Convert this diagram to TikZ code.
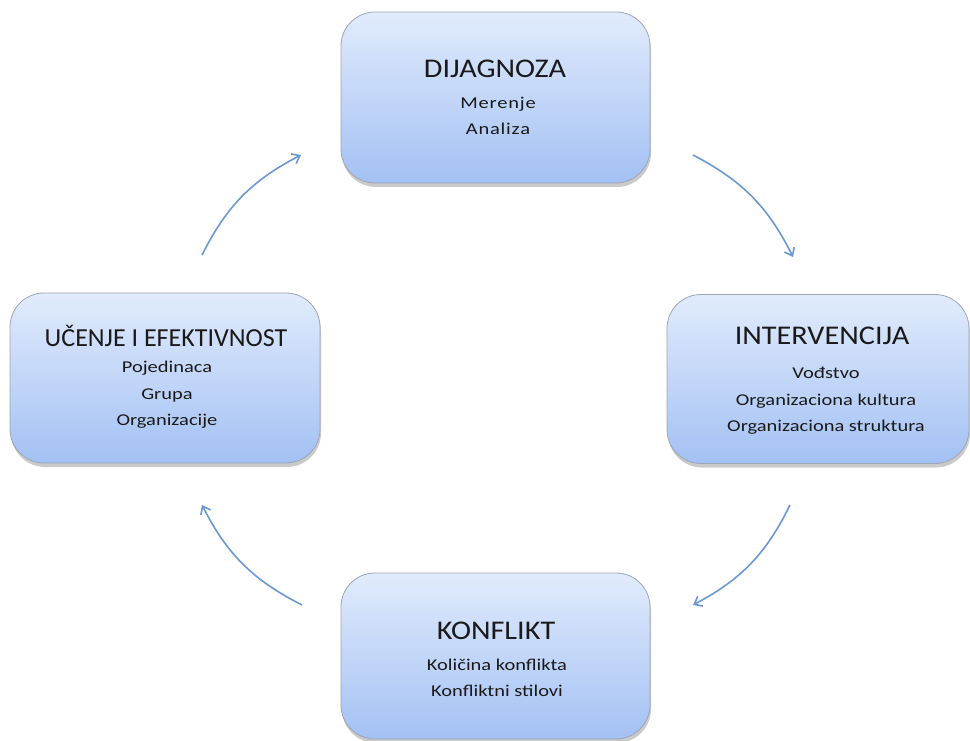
\documentclass[tikz,border=0pt]{standalone}
\usepackage{fontspec}
\setmainfont{Carlito}
\usetikzlibrary{shadows,arrows.meta}
\definecolor{boxtop}{HTML}{E1EBFC}
\definecolor{boxbot}{HTML}{A3C1F4}
\definecolor{boxline}{HTML}{9DA6B6}
\definecolor{arrowblue}{HTML}{6B98D2}
\definecolor{txt}{HTML}{1A1A1A}
\tikzset{
  stage/.style={draw=boxline, line width=0.8pt, rounded corners=34pt,
    top color=boxtop, bottom color=boxbot, inner sep=0pt,
    drop shadow={shadow xshift=1pt, shadow yshift=-4pt, opacity=0.35, fill=black!60}},
  title/.style={font=\fontsize{27}{30}\selectfont\addfontfeature{FakeStretch=1.12}, text=txt},
  narrowtitle/.style={font=\fontsize{26}{30}\selectfont, text=txt},
  items/.style={font=\fontsize{16.5}{26.5}\selectfont\addfontfeature{FakeStretch=1.24}, text=txt, align=center},
  flow/.style={draw=arrowblue, line width=1.6pt, -{Straight Barb[length=7pt,width=11pt,line width=1.6pt]}, bend left=18}
}
\begin{document}
\begin{tikzpicture}[x=1pt,y=-1pt]
\useasboundingbox (0,0) rectangle (970,741);

% four stages of the cycle
\node[stage, minimum width=309pt, minimum height=171pt] (diag) at (495.5,97.5) {};
\node[stage, minimum width=302pt, minimum height=169pt] (interv) at (818,379) {};
\node[stage, minimum width=310pt, minimum height=170pt] (ucenje) at (165,378) {};
\node[stage, minimum width=309pt, minimum height=166pt] (konf) at (495.5,656) {};

% titles and sub-items
\node[title] (diagT) at (495,69) {DIJAGNOZA};
\node[items] (diagI) at (498,116) {\addfontfeature{LetterSpace=5}Merenje\\\addfontfeature{LetterSpace=5}Analiza};

\node[title] (intervT) at (822,336) {INTERVENCIJA};
\node[items] (intervI) at (826,401) {Vođstvo\\Organizaciona kultura\\Organizaciona struktura};

\node[narrowtitle] (ucenjeT) at (166,336) {UČENJE I EFEKTIVNOST};
\node[items] (ucenjeI) at (167,395) {Pojedinaca\\Grupa\\Organizacije};

\node[title] (konfT) at (496,631) {KONFLIKT};
\node[items] (konfI) at (497,678) {Količina konflikta\\Konfliktni stilovi};

% arrow end points
\coordinate (a1) at (202,255);
\coordinate (a2) at (301,155);
\coordinate (b1) at (693,155);
\coordinate (b2) at (793,257);
\coordinate (c1) at (790,505);
\coordinate (c2) at (693,605);
\coordinate (d1) at (302,605);
\coordinate (d2) at (202,505);

% clockwise connectors
\draw[flow] (a1) to (a2);
\draw[flow] (b1) to (b2);
\draw[flow] (c1) to (c2);
\draw[flow] (d1) to (d2);
\end{tikzpicture}
\end{document}
